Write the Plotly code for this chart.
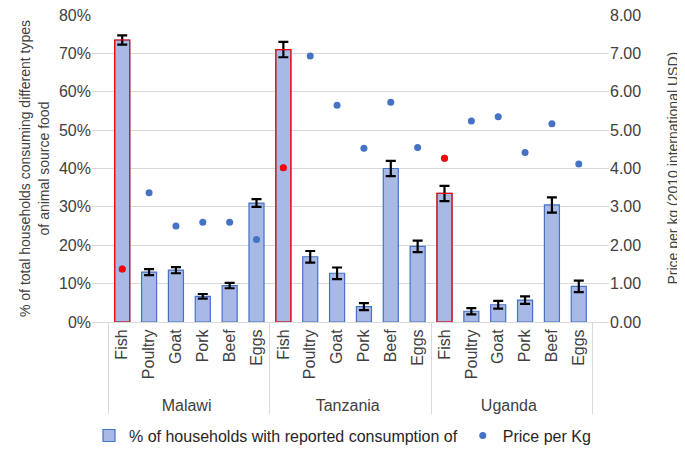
import plotly.graph_objects as go

countries = ["Malawi"] * 6 + ["Tanzania"] * 6 + ["Uganda"] * 6
foods = ["Fish", "Poultry", "Goat", "Pork", "Beef", "Eggs"] * 3

# % of households consuming
pct = [73.5, 13.0, 13.5, 6.7, 9.5, 31.0,
       71.0, 17.0, 12.7, 4.0, 40.0, 19.7,
       33.5, 2.8, 4.5, 5.7, 30.5, 9.3]
pct_err = [1.2, 0.8, 0.8, 0.6, 0.7, 1.0,
           2.0, 1.5, 1.5, 0.9, 2.0, 1.5,
           2.0, 0.8, 1.0, 1.0, 2.0, 1.5]

# price per kg, 2010 international USD
price = [1.38, 3.37, 2.50, 2.60, 2.60, 2.15,
         4.02, 6.93, 5.65, 4.53, 5.73, 4.55,
         4.27, 5.24, 5.35, 4.42, 5.17, 4.12]

x = [countries, foods]
fish = [i for i, f in enumerate(foods) if f == "Fish"]
fx = [[countries[i] for i in fish], [foods[i] for i in fish]]

fig = go.Figure()
fig.add_trace(go.Bar(
    x=x, y=[v / 100 for v in pct],
    error_y=dict(type="data", array=[e / 100 for e in pct_err],
                 color="black", thickness=2.2, width=5),
    marker=dict(color="#a9b9e6", line=dict(color="#4472c4", width=1.2)),
    name="% of households with reported consumption of",
))
# red outline on fish bars
fig.add_trace(go.Bar(
    x=fx, y=[pct[i] / 100 for i in fish],
    marker=dict(color="rgba(0,0,0,0)", line=dict(color="#ff0000", width=1.2)),
    showlegend=False, hoverinfo="skip",
))
fig.add_trace(go.Scatter(
    x=x, y=price, yaxis="y2", mode="markers",
    marker=dict(color="#4472c4", size=7),
    name="Price per Kg",
))
fig.add_trace(go.Scatter(
    x=fx, y=[price[i] for i in fish], yaxis="y2", mode="markers",
    marker=dict(color="#ff0000", size=7), showlegend=False,
))

# page body adds an 8px margin, so the figure is sized to fill the window
fig.update_layout(
    width=669, height=438,
    margin=dict(l=84, r=68, t=7, b=124, autoexpand=False),
    plot_bgcolor="white", paper_bgcolor="white",
    font=dict(family="Liberation Sans, Arial", size=16, color="#404040"),
    bargap=0.44, barmode="overlay",
    showlegend=True,
    legend=dict(orientation="h", xref="container", x=0.5, xanchor="center",
                y=-0.37, yanchor="middle",
                font=dict(size=16, color="#262626")),
    xaxis=dict(type="multicategory", tickangle=-90, showline=True,
               linecolor="#d9d9d9", showdividers=True, dividercolor="#d9d9d9",
               dividerwidth=1, tickfont=dict(size=16), automargin=False),
    yaxis=dict(range=[0, 0.8001], tickvals=[i / 10 for i in range(9)],
               tickformat=".0%", showgrid=True, ticklabeloverflow="allow",
               gridcolor="#d9d9d9", zeroline=False, tickfont=dict(size=16),
               automargin=False,
               title=dict(text="% of total households consuming different types<br>of animal source food",
                          font=dict(size=14), standoff=6)),
    yaxis2=dict(range=[0, 8.001], tickvals=list(range(9)), tickformat=".2f",
                overlaying="y", side="right", ticklabeloverflow="allow",
                showgrid=False, zeroline=False, tickfont=dict(size=16), automargin=False),
)

# right axis title
fig.add_annotation(
    text="Price per kg (2010 international USD)", textangle=-90,
    xref="paper", yref="paper", x=1, y=0.5, xshift=63,
    xanchor="center", yanchor="middle", showarrow=False,
    font=dict(size=14, color="#404040"),
)

fig.write_html("out.html")
